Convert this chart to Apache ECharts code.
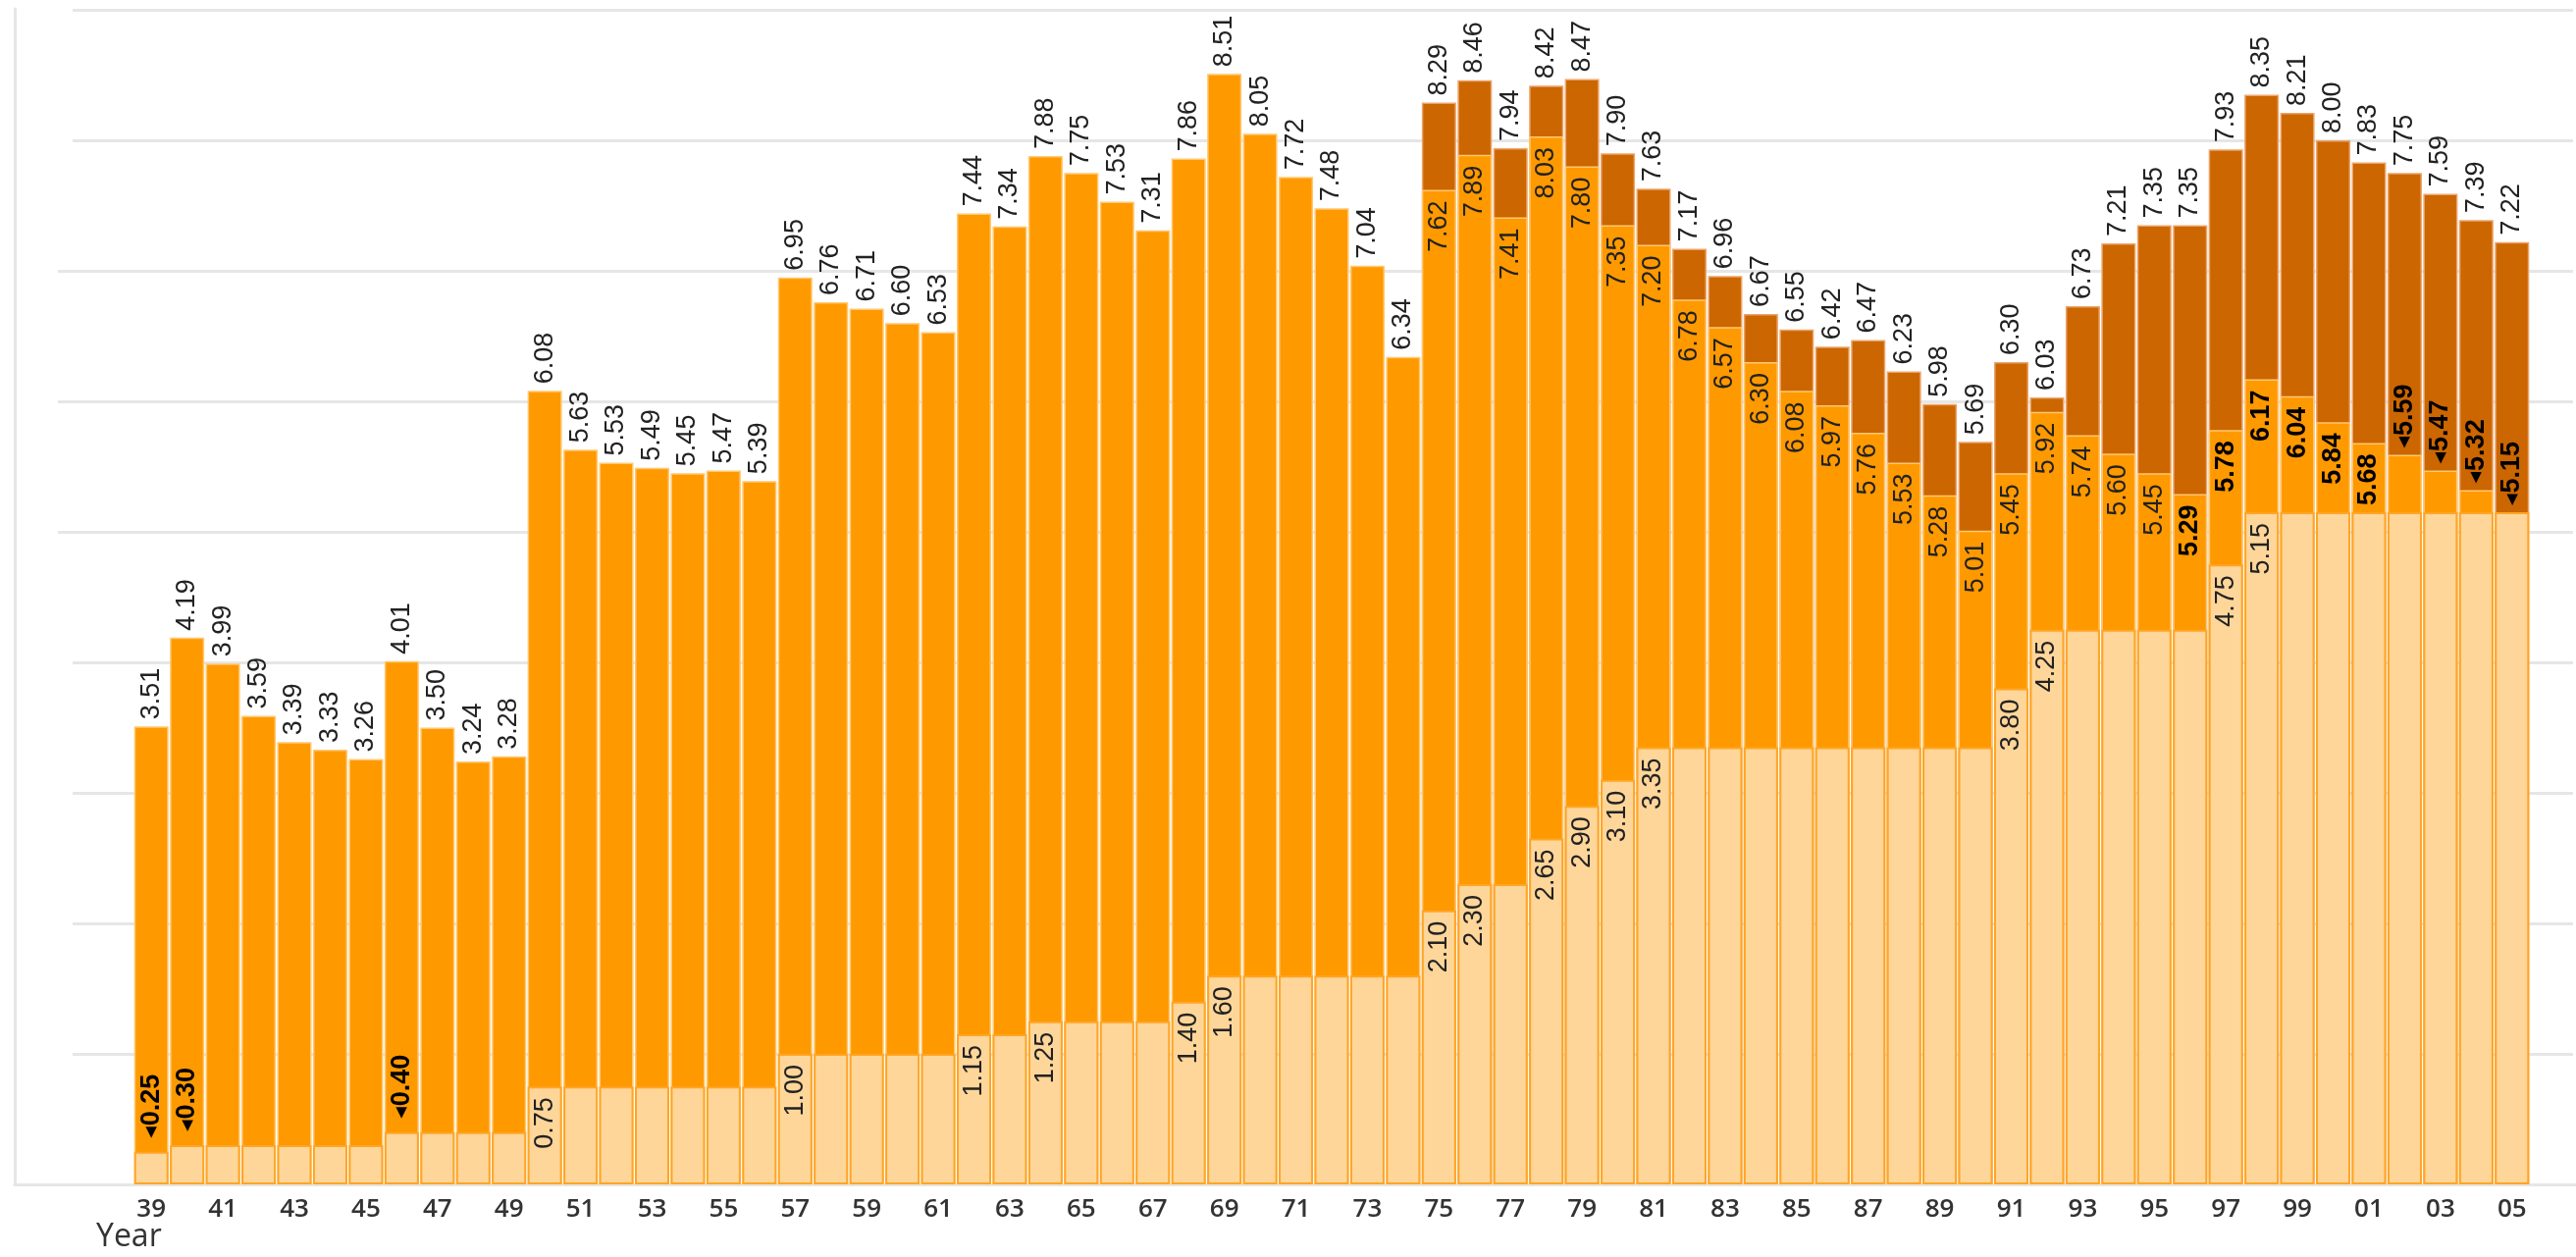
<!DOCTYPE html>
<html>
<head>
<meta charset="utf-8">
<script src="https://cdn.jsdelivr.net/npm/echarts@6/dist/echarts.min.js"></script>
<style>
html,body{margin:0;padding:0;background:#fff;}
#c{width:2625px;height:1281px;}
</style>
</head>
<body>
<div id="c"></div>
<script>
// ---- Data ----
const years = ['39','40','41','42','43','44','45','46','47','48','49',
  '50','51','52','53','54','55','56','57','58','59',
  '60','61','62','63','64','65','66','67','68','69',
  '70','71','72','73','74','75','76','77','78','79',
  '80','81','82','83','84','85','86','87','88','89',
  '90','91','92','93','94','95','96','97','98','99',
  '00','01','02','03','04','05'];

// nominal minimum wage (light bars)
const nominal = [0.25,0.30,0.30,0.30,0.30,0.30,0.30,0.40,0.40,0.40,0.40,
  0.75,0.75,0.75,0.75,0.75,0.75,0.75,1.00,1.00,1.00,
  1.00,1.00,1.15,1.15,1.25,1.25,1.25,1.25,1.40,1.60,
  1.60,1.60,1.60,1.60,1.60,2.10,2.30,2.30,2.65,2.90,
  3.10,3.35,3.35,3.35,3.35,3.35,3.35,3.35,3.35,3.35,
  3.35,3.80,4.25,4.25,4.25,4.25,4.25,4.75,5.15,5.15,
  5.15,5.15,5.15,5.15,5.15,5.15];

// real value, first deflator (orange bars)
const realA = [3.51,4.19,3.99,3.59,3.39,3.33,3.26,4.01,3.50,3.24,3.28,
  6.08,5.63,5.53,5.49,5.45,5.47,5.39,6.95,6.76,6.71,
  6.60,6.53,7.44,7.34,7.88,7.75,7.53,7.31,7.86,8.51,
  8.05,7.72,7.48,7.04,6.34,7.62,7.89,7.41,8.03,7.80,
  7.35,7.20,6.78,6.57,6.30,6.08,5.97,5.76,5.53,5.28,
  5.01,5.45,5.92,5.74,5.60,5.45,5.29,5.78,6.17,6.04,
  5.84,5.68,5.59,5.47,5.32,5.15];

// real value, second deflator (dark bars, from 1975)
const realB = [null,null,null,null,null,null,null,null,null,null,null,
  null,null,null,null,null,null,null,null,null,null,
  null,null,null,null,null,null,null,null,null,null,
  null,null,null,null,null,8.29,8.46,7.94,8.42,8.47,
  7.90,7.63,7.17,6.96,6.67,6.55,6.42,6.47,6.23,5.98,
  5.69,6.30,6.03,6.73,7.21,7.35,7.35,7.93,8.35,8.21,
  8.00,7.83,7.75,7.59,7.39,7.22];

const yMin = 0, yMax = 9, yStep = 1;

// ---- Styling helpers ----
const LABEL_FONT = '"Liberation Sans", Arial, sans-serif';
const LABEL_SIZE = 27;
const fmt = v => v.toFixed(2);
const boldFrom = years.indexOf('96');

const baseLabel = {show: true, rotate: 90, fontFamily: LABEL_FONT, fontSize: LABEL_SIZE, color: '#222'};
function topLabel(extra) {
  return Object.assign({}, baseLabel, {position: 'top', distance: 7, align: 'left', verticalAlign: 'middle'}, extra || {});
}
function insideLabel(extra) {
  return Object.assign({}, baseLabel, {position: 'insideTop', distance: 11, align: 'right', verticalAlign: 'middle'}, extra || {});
}
function pointerLabel(v, dist) {
  return topLabel({
    distance: dist,
    formatter: '{t|\u25C0}{v|' + fmt(v) + '}',
    rich: {
      t: {fontSize: 15, color: '#000', fontFamily: '"DejaVu Sans", sans-serif', padding: [0, 1, 0, 0]},
      v: {fontSize: LABEL_SIZE, fontWeight: 'bold', color: '#000', fontFamily: LABEL_FONT}
    }
  });
}

const darkData = realB.map(v => v == null ? '-' : {value: v, label: topLabel({formatter: fmt(v)})});

const orangeData = realA.map((v, i) => {
  let label;
  if (realB[i] == null) {
    label = topLabel({formatter: fmt(v)});
  } else if (v - nominal[i] < 0.5) {
    label = pointerLabel(v, 7);
  } else if (i >= boldFrom) {
    label = insideLabel({formatter: fmt(v), fontWeight: 'bold', color: '#000'});
  } else {
    label = insideLabel({formatter: fmt(v)});
  }
  return {value: v, label: label};
});

const lightData = nominal.map((v, i) => {
  const isNew = i === 0 || v !== nominal[i - 1];
  let label = {show: false};
  if (isNew) {
    label = v < 0.5 ? pointerLabel(v, 14) : insideLabel({formatter: fmt(v)});
  }
  return {value: v, label: label};
});

const FRAME = '#e6e6e6';
const hiddenAxis = {axisLine: {show: false}, axisTick: {show: false}, axisLabel: {show: false}, splitLine: {show: false}};

const chart = echarts.init(document.getElementById('c'));
chart.setOption({
  animation: false,
  backgroundColor: '#ffffff',
  title: {
    text: 'Year', left: 93, top: 1240,
    textStyle: {fontSize: 32, fontWeight: 'normal', color: '#333', fontFamily: '"Open Sans", sans-serif'}
  },
  grid: [
    {left: 136, right: 47, top: 10, bottom: 74},          // bars
    {left: 15, right: 0, top: 9, bottom: 74},             // frame
    {left: 74, right: 3, top: 10, bottom: 74},            // gridlines
    {left: 59, right: 3, top: 276, bottom: 739}           // gridlines 5..7 (longer)
  ],
  xAxis: [
    {gridIndex: 0, type: 'category', data: years, boundaryGap: true,
      axisLine: {show: false}, axisTick: {show: false}, splitLine: {show: false},
      axisLabel: {interval: 1, margin: 13, fontSize: 26, fontWeight: 600, color: '#333', fontFamily: '"Open Sans", sans-serif'}},
    Object.assign({gridIndex: 1, type: 'value', position: 'top', min: 0, max: 1}, hiddenAxis,
      {axisLine: {show: true, lineStyle: {color: FRAME, width: 3}}}),
    Object.assign({gridIndex: 1, type: 'value', position: 'bottom', min: 0, max: 1}, hiddenAxis,
      {axisLine: {show: true, lineStyle: {color: FRAME, width: 3}}}),
    Object.assign({gridIndex: 2, type: 'value', min: 0, max: 1}, hiddenAxis),
    Object.assign({gridIndex: 3, type: 'value', min: 0, max: 1}, hiddenAxis)
  ],
  yAxis: [
    Object.assign({gridIndex: 0, type: 'value', min: yMin, max: yMax, interval: yStep}, hiddenAxis),
    Object.assign({gridIndex: 1, type: 'value', position: 'left', min: 0, max: 1}, hiddenAxis,
      {axisLine: {show: true, lineStyle: {color: FRAME, width: 3}}}),
    Object.assign({gridIndex: 2, type: 'value', min: yMin, max: yMax, interval: yStep}, hiddenAxis,
      {splitLine: {show: true, lineStyle: {color: FRAME, width: 3}}}),
    Object.assign({gridIndex: 3, type: 'value', min: 5, max: 7, interval: yStep}, hiddenAxis,
      {splitLine: {show: true, lineStyle: {color: FRAME, width: 3}}})
  ],
  series: [
    {type: 'bar', name: 'Real (alt.)', xAxisIndex: 0, yAxisIndex: 0, data: darkData,
      barWidth: 35, barGap: '-100%',
      itemStyle: {color: '#CC6600', borderColor: '#EBA46A', borderWidth: 1.5}},
    {type: 'bar', name: 'Real', xAxisIndex: 0, yAxisIndex: 0, data: orangeData,
      barWidth: 35, barGap: '-100%',
      itemStyle: {color: '#FF9900', borderColor: '#FFC870', borderWidth: 1.5}},
    {type: 'bar', name: 'Nominal', xAxisIndex: 0, yAxisIndex: 0, data: lightData,
      barWidth: 35, barGap: '-100%',
      itemStyle: {color: '#FFD699', borderColor: '#FFA526', borderWidth: 2}}
  ]
});
</script>
</body>
</html>
